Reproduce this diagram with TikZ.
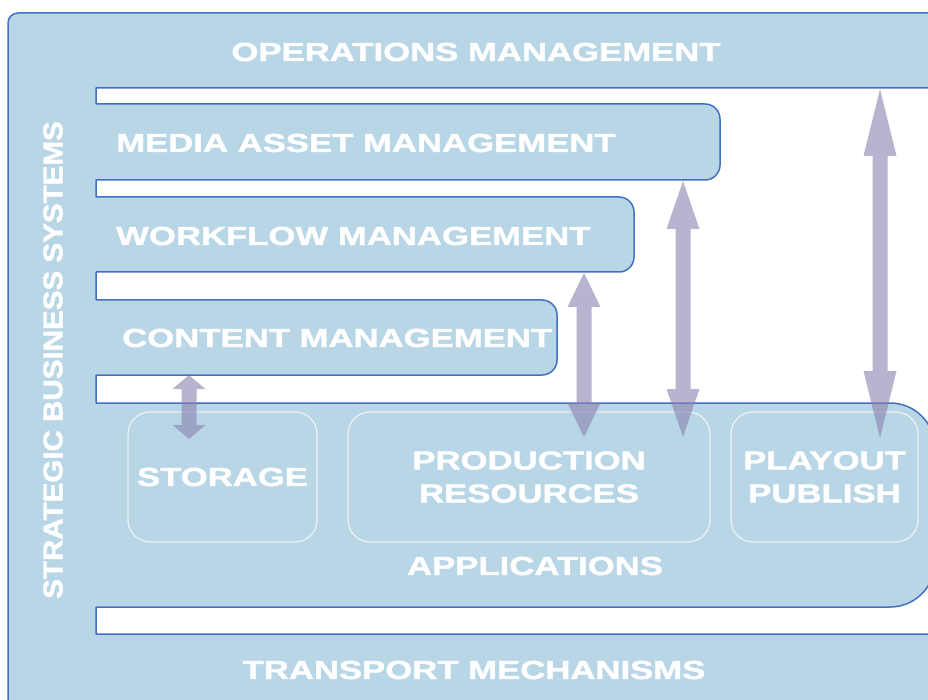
\documentclass[tikz,border=0pt]{standalone}
\usepackage{fontspec}
\setmainfont{Liberation Sans}
\newfontfamily\labfont{Liberation Sans}[FakeStretch=1.335,FakeBold=1.6]
\newfontfamily\sidefont{Liberation Sans}[FakeStretch=1.095,FakeBold=1.6]
\usetikzlibrary{arrows.meta}
\definecolor{bandblue}{HTML}{B9D6E6}
\definecolor{edgeblue}{HTML}{4470C4}
\definecolor{arrowlav}{HTML}{8A82AF}
\definecolor{boxline}{HTML}{EAF3F8}
\begin{document}
\begin{tikzpicture}[x=1pt,y=-1pt,
  lab/.style={text=white, inner sep=0pt, font=\labfont\bfseries\fontsize{26}{33}\selectfont},
  sidelab/.style={text=white, inner sep=0pt, rotate=90, font=\sidefont\bfseries\fontsize{27}{33}\selectfont},
  appbox/.style={lab, draw=boxline, line width=1.2pt, rounded corners=22pt, align=center, minimum height=130pt},
  dblarrow/.style={draw=arrowlav, line width=15pt, {Triangle[length=#1,width=33pt,line width=0pt]}-{Triangle[length=#1,width=33pt,line width=0pt]}}
]
\useasboundingbox (0,0) rectangle (928,700);
\fill[white] (0,0) rectangle (928,700);
% the band frame
\path[draw=edgeblue, fill=bandblue, line width=1.5pt, line join=round]
  (8,710) -- (8,23) arc[start angle=180,end angle=270,radius=10]
  -- (945,13) -- (945,88) -- (96,88) -- (96,104)
  -- (705,104) arc[start angle=-90,end angle=0,radius=15]
  -- (720,165) arc[start angle=0,end angle=90,radius=15]
  -- (96,180) -- (96,197)
  -- (619,197) arc[start angle=-90,end angle=0,radius=15]
  -- (634,257) arc[start angle=0,end angle=90,radius=15]
  -- (96,272) -- (96,300)
  -- (542,300) arc[start angle=-90,end angle=0,radius=15]
  -- (557,360) arc[start angle=0,end angle=90,radius=15]
  -- (96,375) -- (96,403)
  -- (890,403) arc[start angle=-90,end angle=0,radius=45]
  -- (935,562) arc[start angle=0,end angle=90,radius=45]
  -- (96,607) -- (96,634) -- (945,634) -- (945,710) -- cycle;
% labels of the bands
\node[lab] (ops) at (476,52) {OPERATIONS MANAGEMENT};
\node[lab, anchor=west] (mam) at (116,143) {MEDIA ASSET MANAGEMENT};
\node[lab, anchor=west] (wf) at (116,236) {WORKFLOW MANAGEMENT};
\node[lab, anchor=west] (cm) at (122,338) {CONTENT MANAGEMENT};
\node[lab] (apps) at (535,566) {APPLICATIONS};
\node[lab] (trans) at (474,670) {TRANSPORT MECHANISMS};
\node[sidelab] (sbs) at (53,360) {STRATEGIC BUSINESS SYSTEMS};
% application boxes
\node[appbox, minimum width=189pt] (storage) at (222.5,477) {STORAGE};
\node[appbox, minimum width=362pt] (prod) at (529,477) {PRODUCTION\\RESOURCES};
\node[appbox, minimum width=187pt] (play) at (824.5,477) {PLAYOUT\\PUBLISH};
% arrow ends
\coordinate (a1t) at (189,375);
\coordinate (a1b) at (189,439);
\coordinate (a2t) at (584,273);
\coordinate (a2b) at (584,437);
\coordinate (a3t) at (683,181);
\coordinate (a3b) at (683,437);
\coordinate (a4t) at (880,89);
\coordinate (a4b) at (880,438);
\begin{scope}[transparency group, opacity=0.6]
  \draw[dblarrow=14pt] (a1t) -- (a1b);
  \draw[dblarrow=34pt] (a2t) -- (a2b);
  \draw[dblarrow=48pt] (a3t) -- (a3b);
  \draw[dblarrow=67pt] (a4t) -- (a4b);
\end{scope}
\end{tikzpicture}
\end{document}
